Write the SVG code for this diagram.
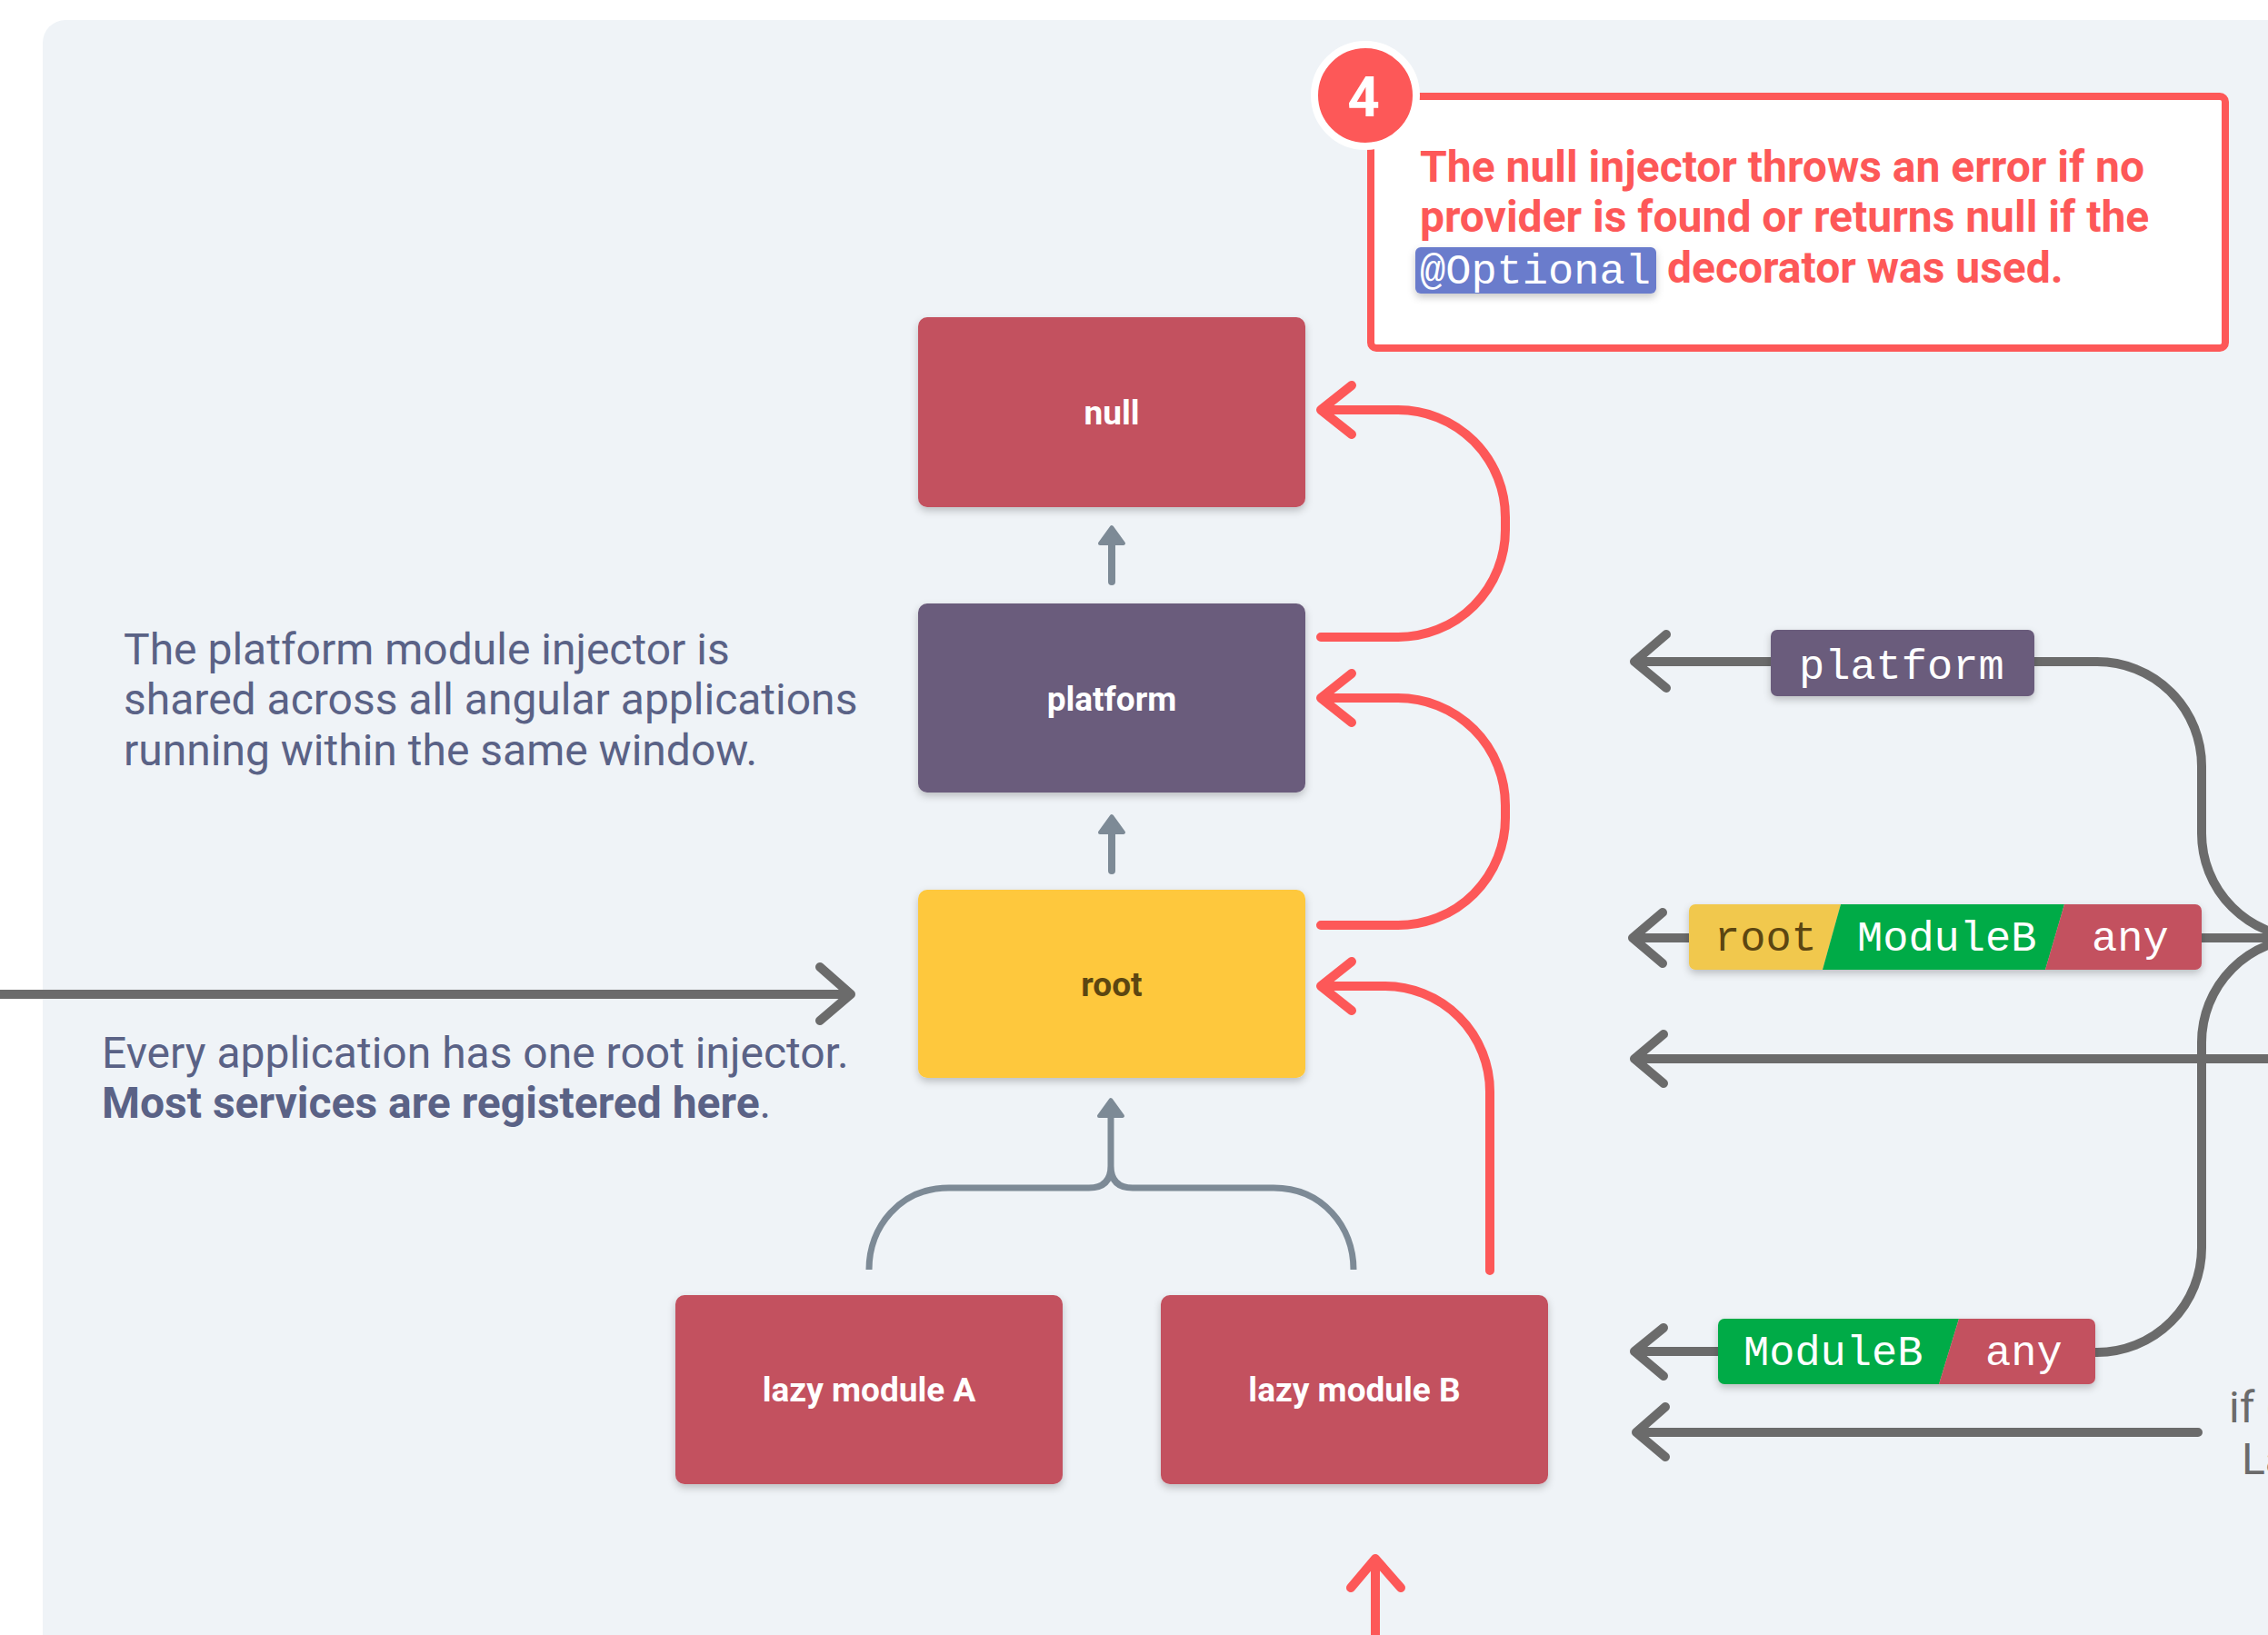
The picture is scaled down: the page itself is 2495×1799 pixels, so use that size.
<svg xmlns="http://www.w3.org/2000/svg" width="2495" height="1799" viewBox="0 0 2495 1799">
<style>
.node-label{font-family:Roboto,"Liberation Sans",sans-serif;font-weight:700;font-size:37px;text-anchor:middle;fill:#ffffff}
.note{font-family:Roboto,"Liberation Sans",sans-serif;font-size:48px;fill:#5a6286}
.callout-text{font-family:Roboto,"Liberation Sans",sans-serif;font-weight:700;font-size:48px;fill:#fd5858}
.mono{font-family:"Liberation Mono","DejaVu Sans Mono",monospace;font-size:47px;fill:#ffffff}
.red{fill:none;stroke:#fd5858;stroke-width:10;stroke-linecap:round;stroke-linejoin:round}
.dark{fill:none;stroke:#6b6b6b;stroke-width:10;stroke-linecap:round;stroke-linejoin:round}
.darkbutt{fill:none;stroke:#6b6b6b;stroke-width:10;stroke-linecap:butt}
.gray{fill:none;stroke:#7d8a96;stroke-width:8;stroke-linecap:round}
.brace{fill:none;stroke:#7d8a96;stroke-width:7;stroke-linecap:butt;stroke-linejoin:round}
.grayhead{fill:#7d8a96;stroke:#7d8a96;stroke-width:4;stroke-linejoin:round}
.side{font-family:Roboto,"Liberation Sans",sans-serif;font-size:48px;fill:#6b6b6b}
</style>
<defs>
<filter id="sh" x="-10%" y="-10%" width="120%" height="140%">
<feDropShadow dx="0" dy="4" stdDeviation="4" flood-color="#000000" flood-opacity="0.22"/>
</filter>
<clipPath id="tag1"><rect x="1858" y="995" width="564" height="72" rx="7"/></clipPath>
<clipPath id="tag2"><rect x="1890" y="1451" width="415" height="72" rx="7"/></clipPath>
</defs>
<rect x="0" y="0" width="2495" height="1799" fill="#ffffff"/>
<rect x="47" y="22" width="2520" height="1850" rx="25" fill="#eff3f7"/>

<g id="connectors">
<path class="red" d="M1453,701 H1538 A118,118 0 0 0 1656,583 V569 A118,118 0 0 0 1538,451 H1455 M1487,424 L1453,451 L1487,478"/>
<path class="red" d="M1453,1018 H1538 A118,118 0 0 0 1656,900 V886 A118,118 0 0 0 1538,768 H1455 M1487,741 L1453,768 L1487,795"/>
<path class="red" d="M1639,1398 V1201 A116,116 0 0 0 1523,1085 H1455 M1487,1058 L1453,1085 L1487,1112"/>
<path class="red" d="M1513,1810 V1717 M1486,1747 L1513,1715 L1541,1747"/>
<path class="gray" d="M1223,640 V596"/>
<polygon class="grayhead" points="1210,598 1223,580 1236,598"/>
<path class="gray" d="M1223,958 V914"/>
<polygon class="grayhead" points="1210,916 1223,898 1236,916"/>
<path class="brace" d="M956,1397 C956,1350 990,1307 1044,1307 H1198 Q1222,1307 1222,1283 Q1222,1307 1246,1307 H1401 C1455,1307 1489,1350 1489,1397 M1222,1283 V1226"/>
<polygon class="grayhead" points="1209,1228 1222,1210 1235,1228"/>
<path class="dark" d="M-10,1094 H936 M902,1064 L936,1094 L902,1123"/>
<path class="dark" d="M1948,728 H1798 M1833,698 L1798,728 L1833,757"/>
<path class="darkbutt" d="M2238,728 H2307 A115,115 0 0 1 2422,843 V917 A115,115 0 0 0 2537,1032"/>
<path class="dark" d="M1858,1032 H1796 M1829,1004 L1796,1032 L1829,1060"/>
<path class="darkbutt" d="M2422,1032 H2540"/>
<path class="darkbutt" d="M2537,1032 A115,115 0 0 0 2422,1147 V1373 A115,115 0 0 1 2307,1488 H2300"/>
<path class="dark" d="M2540,1165 H1798 M1830,1138 L1798,1165 L1830,1192"/>
<path class="dark" d="M1890,1487 H1798 M1830,1461 L1798,1487 L1830,1514"/>
<path class="dark" d="M2418,1576 H1800 M1832,1548 L1800,1576 L1832,1603"/>
</g>

<g id="node-null">
<rect x="1010" y="349" width="426" height="209" rx="10" fill="#c3515f" filter="url(#sh)"/>
<text class="node-label" x="1223" y="467">null</text>
</g>
<g id="node-platform">
<rect x="1010" y="664" width="426" height="208" rx="10" fill="#6b5b7b" filter="url(#sh)"/>
<text class="node-label" x="1223" y="782">platform</text>
</g>
<g id="node-root">
<rect x="1010" y="979" width="426" height="207" rx="10" fill="#fec83c" filter="url(#sh)"/>
<text class="node-label" x="1223" y="1096" style="fill:#5c4611">root</text>
</g>
<g id="node-lazy-a">
<rect x="743" y="1425" width="426" height="208" rx="10" fill="#c3515f" filter="url(#sh)"/>
<text class="node-label" x="956" y="1542">lazy module A</text>
</g>
<g id="node-lazy-b">
<rect x="1277" y="1425" width="426" height="208" rx="10" fill="#c3515f" filter="url(#sh)"/>
<text class="node-label" x="1490" y="1542">lazy module B</text>
</g>

<g id="note-platform">
<text class="note" x="136" y="731">The platform module injector is</text>
<text class="note" x="136" y="786">shared across all angular applications</text>
<text class="note" x="136" y="842">running within the same window.</text>
</g>
<g id="note-root">
<text class="note" x="112" y="1175">Every application has one root injector.</text>
<text class="note" x="112" y="1230"><tspan font-weight="700">Most services are registered here</tspan>.</text>
</g>

<g id="callout-4">
<rect x="1508" y="106" width="940" height="277" rx="6" fill="#ffffff" stroke="#fd5858" stroke-width="8"/>
<circle cx="1502" cy="105" r="56" fill="#fd5858" stroke="#ffffff" stroke-width="8"/>
<text x="1500" y="128" font-family="Roboto, 'Liberation Sans', sans-serif" font-weight="700" font-size="62" fill="#ffffff" text-anchor="middle">4</text>
<text class="callout-text" x="1562" y="200">The null injector throws an error if no</text>
<text class="callout-text" x="1562" y="255">provider is found or returns null if the</text>
<rect x="1557" y="272" width="265" height="51" rx="6" fill="#6a7bcc" filter="url(#sh)"/>
<text class="mono" x="1562" y="312" font-size="48">@Optional</text>
<text class="callout-text" x="1834" y="311">decorator was used.</text>
</g>

<g id="tag-platform">
<rect x="1948" y="693" width="290" height="73" rx="7" fill="#6b5b7b" filter="url(#sh)"/>
<text class="mono" x="1979" y="747">platform</text>
</g>
<g id="tag-root-moduleb-any">
<g filter="url(#sh)">
<g clip-path="url(#tag1)">
<polygon points="1858,995 2025,995 2005,1067 1858,1067" fill="#f1c84e"/>
<polygon points="2025,995 2271,995 2250,1067 2005,1067" fill="#00ab46"/>
<polygon points="2271,995 2422,995 2422,1067 2250,1067" fill="#c3515f"/>
</g>
</g>
<text class="mono" x="1886" y="1046" style="fill:#5c4611">root</text>
<text class="mono" x="2043" y="1046">ModuleB</text>
<text class="mono" x="2301" y="1046">any</text>
</g>
<g id="tag-moduleb-any">
<g filter="url(#sh)">
<g clip-path="url(#tag2)">
<polygon points="1890,1451 2155,1451 2133,1523 1890,1523" fill="#00ab46"/>
<polygon points="2155,1451 2305,1451 2305,1523 2133,1523" fill="#c3515f"/>
</g>
</g>
<text class="mono" x="1918" y="1502">ModuleB</text>
<text class="mono" x="2184" y="1502">any</text>
</g>

<g id="side-text">
<text class="side" x="2452" y="1565">if (</text>
<text class="side" x="2466" y="1622">La</text>
</g>
</svg>
